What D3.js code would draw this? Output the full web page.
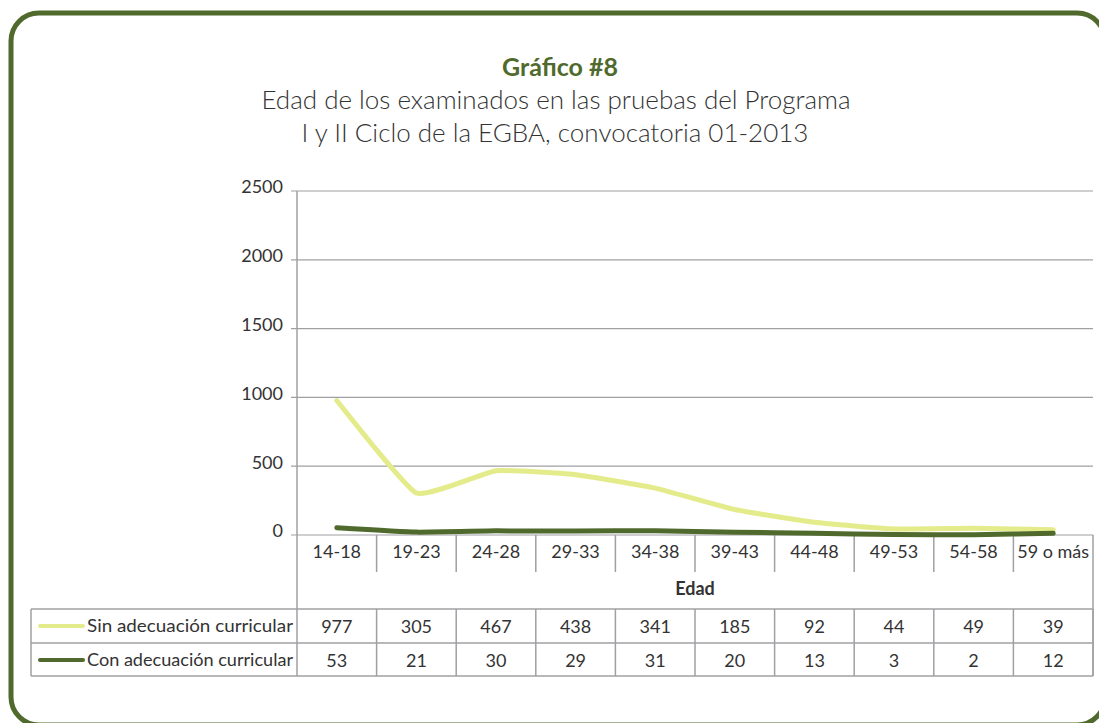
<!DOCTYPE html>
<html>
<head>
<meta charset="utf-8">
<script src="https://cdn.jsdelivr.net/npm/d3@7"></script>
<style>
  body { margin: 0; background: #fff; overflow: hidden; }
  text { font-family: "Lato", "Open Sans", sans-serif; }
</style>
</head>
<body>
<div id="chart"></div>
<script>
// data
var categories = ["14-18", "19-23", "24-28", "29-33", "34-38", "39-43", "44-48", "49-53", "54-58", "59 o más"];
var sinAdecuacion = [977, 305, 467, 438, 341, 185, 92, 44, 49, 39];
var conAdecuacion = [53, 21, 30, 29, 31, 20, 13, 3, 2, 12];
var seriesNames = ["Sin adecuación curricular", "Con adecuación curricular"];
var yTicks = [0, 500, 1000, 1500, 2000, 2500];

var W = 1099, H = 723;
var pLeft = 297, pRight = 1093, pTop = 191, pBottom = 535;
var tableLeft = 31, row1 = 609, row2 = 643, row3 = 676;
var green = "#4f6a2c", light = "#e4eb8a", grid = "#a0a0a4", ink = "#333333";

var svg = d3.select("#chart").append("svg")
  .attr("width", W)
  .attr("height", H);

// frame
svg.append("rect")
  .attr("x", 11).attr("y", 13)
  .attr("width", 1094).attr("height", 712)
  .attr("rx", 28).attr("ry", 28)
  .attr("fill", "none")
  .attr("stroke", green)
  .attr("stroke-width", 5);

// titles
svg.append("text")
  .attr("x", 560).attr("y", 76)
  .attr("text-anchor", "middle")
  .attr("fill", green)
  .style("font-size", "25px")
  .style("font-weight", "bold")
  .text("Gráfico #8");
svg.append("text")
  .attr("x", 556).attr("y", 109)
  .attr("text-anchor", "middle")
  .attr("fill", ink)
  .style("font-size", "26px")
  .style("font-weight", "300")
  .text("Edad de los examinados en las pruebas del Programa");
svg.append("text")
  .attr("x", 555).attr("y", 142)
  .attr("text-anchor", "middle")
  .attr("fill", ink)
  .style("font-size", "26px")
  .style("font-weight", "300")
  .text("I y II Ciclo de la EGBA, convocatoria 01-2013");

var x = d3.scaleBand()
  .domain(categories)
  .range([pLeft, pRight]);

var y = d3.scaleLinear()
  .domain([0, 2500])
  .range([pBottom, pTop]);

// grid lines
svg.append("g")
  .selectAll("line")
  .data(yTicks)
  .enter()
  .append("line")
    .attr("x1", pLeft - 6)
    .attr("x2", pRight)
    .attr("y1", function(d) { return y(d); })
    .attr("y2", function(d) { return y(d); })
    .attr("stroke", grid)
    .attr("stroke-width", 1.2);

// y axis labels
var yAxis = svg.append("g")
  .attr("transform", "translate(" + (pLeft - 14) + ",0)")
  .call(d3.axisLeft(y).tickValues(yTicks).tickFormat(d3.format("d")).tickSize(0).tickPadding(0));
yAxis.select(".domain").remove();
yAxis.selectAll("text")
  .attr("fill", ink)
  .attr("dy", "0.1em")
  .style("font-size", "18px")
  .style("font-family", "Lato, 'Open Sans', sans-serif");

// vertical axis line running through the table
svg.append("line")
  .attr("x1", pLeft).attr("x2", pLeft)
  .attr("y1", pTop).attr("y2", row3)
  .attr("stroke", grid).attr("stroke-width", 1.5);

// category separators under the axis
svg.append("g")
  .selectAll("line")
  .data(categories)
  .enter()
  .append("line")
    .attr("x1", function(d) { return x(d) + x.bandwidth(); })
    .attr("x2", function(d) { return x(d) + x.bandwidth(); })
    .attr("y1", pBottom)
    .attr("y2", function(d, i) { return i == categories.length - 1 ? row3 : pBottom + 37; })
    .attr("stroke", grid).attr("stroke-width", 1.5);

// category labels
svg.append("g")
  .selectAll("text")
  .data(categories)
  .enter()
  .append("text")
    .attr("x", function(d) { return x(d) + x.bandwidth() / 2; })
    .attr("y", pBottom + 23)
    .attr("text-anchor", "middle")
    .attr("fill", ink)
    .style("font-size", "18px")
    .text(function(d) { return d; });

svg.append("text")
  .attr("x", 695)
  .attr("y", 595)
  .attr("text-anchor", "middle")
  .attr("fill", ink)
  .style("font-size", "18px")
  .style("font-weight", "bold")
  .text("Edad");

// data table
[row1, row2, row3].forEach(function(r) {
  svg.append("line")
    .attr("x1", tableLeft).attr("x2", pRight)
    .attr("y1", r).attr("y2", r)
    .attr("stroke", grid).attr("stroke-width", 1.5);
});
svg.append("line")
  .attr("x1", tableLeft).attr("x2", tableLeft)
  .attr("y1", row1).attr("y2", row3)
  .attr("stroke", grid).attr("stroke-width", 1.5);
svg.append("g")
  .selectAll("line")
  .data(categories)
  .enter()
  .append("line")
    .attr("x1", function(d) { return x(d) + x.bandwidth(); })
    .attr("x2", function(d) { return x(d) + x.bandwidth(); })
    .attr("y1", row1).attr("y2", row3)
    .attr("stroke", grid).attr("stroke-width", 1.5);

var series = [
  { name: seriesNames[0], values: sinAdecuacion, color: light, row: row1 },
  { name: seriesNames[1], values: conAdecuacion, color: green, row: row2 }
];

series.forEach(function(s) {
  var cy = s.row + (row2 - row1) / 2;
  svg.append("line")
    .attr("x1", 40).attr("x2", 83)
    .attr("y1", cy).attr("y2", cy)
    .attr("stroke", s.color)
    .attr("stroke-width", 4)
    .attr("stroke-linecap", "round");
  svg.append("text")
    .attr("x", 87).attr("y", cy + 6)
    .attr("fill", ink)
    .style("font-size", "17.5px")
    .attr("textLength", 206)
    .attr("lengthAdjust", "spacingAndGlyphs")
    .text(s.name);
  svg.append("g")
    .selectAll("text")
    .data(s.values)
    .enter()
    .append("text")
      .attr("x", function(d, i) { return x(categories[i]) + x.bandwidth() / 2; })
      .attr("y", cy + 7)
      .attr("text-anchor", "middle")
      .attr("fill", ink)
      .style("font-size", "18px")
      .text(function(d) { return d; });
});

// lines
var line = d3.line()
  .x(function(d, i) { return x(categories[i]) + x.bandwidth() / 2; })
  .y(function(d) { return y(d); })
  .curve(d3.curveCardinal.tension(0.6));

series.forEach(function(s) {
  svg.append("path")
    .attr("fill", "none")
    .attr("stroke", s.color)
    .attr("stroke-width", 5)
    .attr("stroke-linecap", "round")
    .attr("d", line(s.values));
});
</script>
</body>
</html>
